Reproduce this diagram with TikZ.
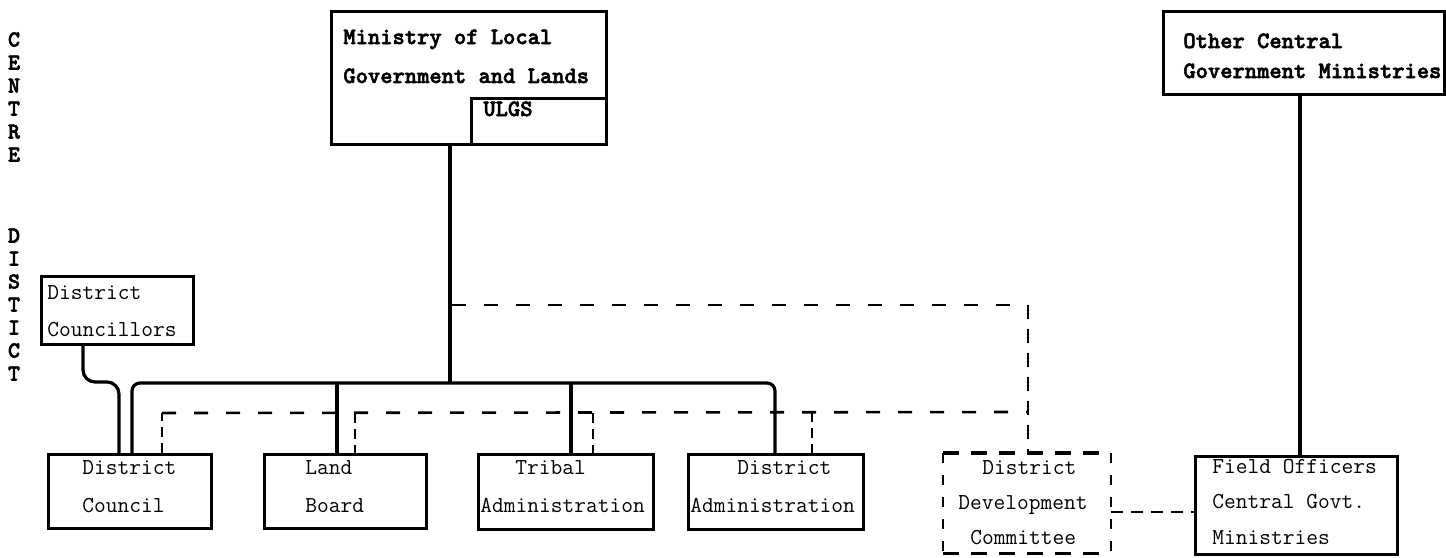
\documentclass[tikz,border=0pt]{standalone}
\usepackage{fontspec}
\newfontfamily\twb[FakeBold=2.5]{lmmonolt10-bold.otf}
\begin{document}
\begin{tikzpicture}[x=0.5pt,y=-0.5pt,
  box/.style={draw=black, line width=1.4pt, inner sep=0pt},
  nobox/.style={inner sep=0pt},
  txt/.style={inner sep=0pt, anchor=base west, font=\ttfamily\fontsize{11.4}{12}\selectfont},
  btxt/.style={inner sep=0pt, anchor=base west, font=\twb\fontsize{11.7}{12}\selectfont},
  side/.style={inner sep=0pt, anchor=base, font=\twb\fontsize{11.4}{12}\selectfont},
  main/.style={draw=black, line width=1.6pt},
  dashA/.style={draw=black, line width=1.3pt, dash pattern=on 7pt off 9pt},
  dthin/.style={draw=black, line width=0.8pt, dash pattern=on 5pt off 3pt},
  dashB/.style={draw=black, line width=1.1pt, dash pattern=on 6pt off 4pt},
  dtop/.style={draw=black, line width=1.6pt, dash pattern=on 8pt off 6pt},
  dside/.style={draw=black, line width=0.9pt, dash pattern=on 5pt off 6pt}]
\useasboundingbox (0,0) rectangle (1446,557);

\newcommand\boxat[6]{\node[#6, minimum width={(#4-#2)*0.5pt}, minimum height={(#5-#3)*0.5pt}, anchor=north west] (#1) at (#2,#3) {};}

% side labels
\foreach \ch [count=\i] in {C,E,N,T,R,E}
  \node[side] (cen\i) at (14,{40+23*(\i-1)+6.5}) {\ch};
\foreach \ch [count=\i] in {D,I,S,T,I,C,T}
  \node[side] (dis\i) at (14,{236+23*(\i-1)+6.5}) {\ch};

% boxes
\boxat{min}{330}{10}{605}{143}{box}
\boxat{ulgs}{470}{97}{605}{143}{box}
\boxat{oth}{1162}{10}{1443}{93}{box}
\boxat{dcl}{40}{275}{192}{343}{box}
\boxat{dc}{47}{453}{210}{527}{box}
\boxat{lb}{263}{453}{425}{527}{box}
\boxat{ta}{477}{453}{652}{528}{box}
\boxat{da}{687}{453}{862}{528}{box}
\boxat{ddc}{943}{453}{1110}{553}{nobox}
\boxat{fo}{1194}{455}{1396}{553}{box}

% dashed border of the District Development Committee
\draw[dtop] (ddc.north west) -- (ddc.north east);
\draw[dtop] (ddc.south west) -- (ddc.south east);
\draw[dside] (ddc.north west) -- (ddc.south west);
\draw[dside] (ddc.north east) -- (ddc.south east);

% texts
\node[btxt] (t1) at (343,44) {Ministry of Local};
\node[btxt] (t2) at (343,83) {Government and Lands};
\node[btxt] (t3) at (483,116) {ULGS};
\node[btxt] (t4) at (1183,48) {Other Central};
\node[btxt] (t5) at (1183,78) {Government Ministries};
\node[txt] (t6) at (47,299) {District};
\node[txt] (t7) at (47,336) {Councillors};
\node[txt] (t8) at (82,474) {District};
\node[txt] (t9) at (82,512) {Council};
\node[txt] (t10) at (305,474) {Land};
\node[txt] (t11) at (305,512) {Board};
\node[txt] (t12) at (515,474) {Tribal};
\node[txt] (t13) at (480,512) {Administration};
\node[txt] (t14) at (737,474) {District};
\node[txt] (t15) at (690,512) {Administration};
\node[txt] (t16) at (982,474) {District};
\node[txt] (t17) at (958,509) {Development};
\node[txt] (t18) at (970,544) {Committee};
\node[txt] (t19) at (1212,473) {Field Officers};
\node[txt] (t20) at (1212,508) {Central Govt.};
\node[txt] (t21) at (1212,544) {Ministries};

% junction coordinates
\coordinate (mj) at (450,383);
\coordinate (bL) at (132,383);
\coordinate (bR) at (775,383);
\coordinate (bLB) at (337,383);
\coordinate (bTA) at (571,383);
\coordinate (k1) at (83,382);
\coordinate (k2) at (119,382);
\coordinate (u1) at (452,305);
\coordinate (u2) at (1028,305);
\coordinate (l1) at (162,413);
\coordinate (l2) at (1028,412);
\coordinate (d1) at (355,413);
\coordinate (d2) at (593,413);
\coordinate (d3) at (812,412);
\coordinate (f1) at (1110,512);
\coordinate (o1) at (1300,93);

% solid connectors
\draw[main] (min.south -| mj) -- (mj);
\draw[main, rounded corners=4pt] (dc.north -| bL) -- (bL) -- (bR) -- (da.north -| bR);
\draw[main] (bLB) -- (lb.north -| bLB);
\draw[main] (bTA) -- (ta.north -| bTA);
\draw[main, rounded corners=6pt] (dcl.south -| k1) -- (k1) -- (k2) -- (dc.north -| k2);
\draw[main] (oth.south -| o1) -- (fo.north -| o1);

% dashed connectors
\draw[dashA] (u1) -- (u2);
\draw[dthin, line width=1pt, dash pattern=on 7pt off 5pt] (u2) -- (ddc.north -| u2);
\draw[dthin] (dc.north -| l1) -- (l1);
\draw[dashA] (l1) -- (l2);
\draw[dthin] (d1) -- (lb.north -| d1);
\draw[dthin] (d2) -- (ta.north -| d2);
\draw[dthin] (d3) -- (da.north -| d3);
\draw[dashB] (ddc.east |- f1) -- (fo.west |- f1);
\end{tikzpicture}
\end{document}
